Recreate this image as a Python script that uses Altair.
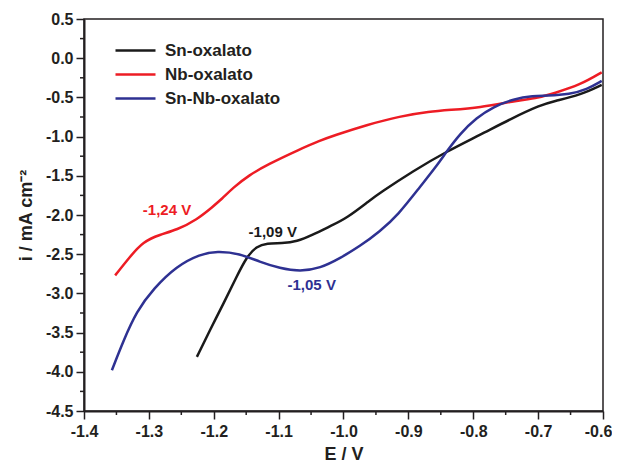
import altair as alt
import pandas as pd

# Sn-oxalato (black)
sn_E = [-1.226, -1.206, -1.185, -1.165, -1.149, -1.134, -1.118, -1.095, -1.072, -1.047,
        -1.020, -0.995, -0.959, -0.944, -0.893, -0.841, -0.790, -0.739, -0.697, -0.677,
        -0.635, -0.602]
sn_i = [-3.81, -3.47, -3.13, -2.79, -2.53, -2.40, -2.36, -2.36, -2.34, -2.25,
        -2.14, -2.04, -1.81, -1.72, -1.44, -1.19, -0.98, -0.76, -0.60, -0.55,
        -0.47, -0.34]

# Nb-oxalato (red)
nb_E = [-1.352, -1.329, -1.309, -1.283, -1.257, -1.226, -1.201, -1.188, -1.170, -1.145,
        -1.118, -1.067, -1.036, -1.016, -0.964, -0.913, -0.867, -0.836, -0.790, -0.739,
        -0.697, -0.677, -0.635, -0.602]
nb_i = [-2.77, -2.53, -2.34, -2.25, -2.19, -2.06, -1.89, -1.80, -1.65, -1.49,
        -1.36, -1.16, -1.05, -0.99, -0.85, -0.74, -0.68, -0.66, -0.63, -0.55,
        -0.50, -0.45, -0.34, -0.18]

# Sn-Nb-oxalato (blue)
snnb_E = [-1.357, -1.339, -1.319, -1.293, -1.257, -1.221, -1.195, -1.160, -1.129, -1.098,
          -1.067, -1.036, -1.005, -0.975, -0.944, -0.916, -0.882, -0.856, -0.841, -0.820,
          -0.795, -0.769, -0.738, -0.707, -0.687, -0.651, -0.625, -0.602]
snnb_i = [-3.98, -3.60, -3.23, -2.94, -2.65, -2.50, -2.46, -2.49, -2.60, -2.68,
          -2.72, -2.68, -2.55, -2.40, -2.21, -2.00, -1.64, -1.37, -1.19, -0.96,
          -0.76, -0.62, -0.52, -0.48, -0.48, -0.46, -0.40, -0.29]

series_names = ["Sn-oxalato", "Nb-oxalato", "Sn-Nb-oxalato"]
series_colors = ["#1a1a1a", "#ed1c24", "#2e3192"]

# axis ticks
x_major = [-1.4, -1.3, -1.2, -1.1, -1.0, -0.9, -0.8, -0.7, -0.6]
x_minor = [-1.35, -1.25, -1.15, -1.05, -0.95, -0.85, -0.75, -0.65]
y_major = [-4.5, -4.0, -3.5, -3.0, -2.5, -2.0, -1.5, -1.0, -0.5, 0.0, 0.5]
y_minor = [-4.25, -3.75, -3.25, -2.75, -2.25, -1.75, -1.25, -0.75, -0.25, 0.25]

rows = []
for name, E, I in [(series_names[0], sn_E, sn_i), (series_names[1], nb_E, nb_i),
                   (series_names[2], snnb_E, snnb_i)]:
    for k, (e, i) in enumerate(zip(E, I)):
        rows.append({"serie": name, "E": e, "i": i, "ord": k})
df = pd.DataFrame(rows)

ann_text = ["-1,24 V", "-1,09 V", "-1,05 V"]
ann_E = [-1.272, -1.109, -1.049]
ann_i = [-1.93, -2.22, -2.89]
ann_color = ["#ed1c24", "#1a1a1a", "#2e3192"]
ann_df = pd.DataFrame({"t": ann_text, "E": ann_E, "i": ann_i, "c": ann_color})

font = "Liberation Sans"
axis_color = "#231f20"
W, H = 519, 392
xscale = alt.Scale(domain=[-1.4, -0.6], nice=False, zero=False)
yscale = alt.Scale(domain=[-4.5, 0.5], nice=False, zero=False)

common = dict(domainWidth=2, domainColor=axis_color, tickColor=axis_color, tickWidth=1.5,
              tickSize=8, labelFont=font, labelFontWeight="bold", labelColor=axis_color,
              labelFontSize=16, titleFont=font, titleFontSize=18, titleFontWeight="bold",
              titleColor=axis_color, grid=False, labelFlush=False, labelOverlap=False,
              labelExpr="replace(datum.label, '\u2212', '-')")

x_axis = alt.Axis(values=x_major, format=".1f", title="E / V", orient="bottom",
                  labelOffset={"condition": {"test": "datum.value > -0.65", "value": -5}, "value": 0},
                  labelPadding=4, titlePadding=6, **common)
y_axis = alt.Axis(values=y_major, format=".1f", title="i / mA cm⁻²", orient="left",
                  labelPadding=3, titlePadding=10, **common)

lines = alt.Chart(df).mark_line(strokeWidth=2.5, interpolate="basis").encode(
    x=alt.X("E:Q", scale=xscale, axis=x_axis),
    y=alt.Y("i:Q", scale=yscale, axis=y_axis),
    color=alt.Color("serie:N", scale=alt.Scale(domain=series_names, range=series_colors),
                    legend=alt.Legend(title=None, orient="none", legendX=40, legendY=20,
                                      symbolType="M-2,0H2", symbolSize=400, symbolStrokeWidth=2.5,
                                      labelFont=font, labelFontSize=17, labelFontWeight="bold",
                                      labelColor=axis_color, rowPadding=4, labelOffset=18)),
    detail="serie:N",
    order="ord:Q",
)

xminor_df = pd.DataFrame({"E": x_minor})
yminor_df = pd.DataFrame({"i": y_minor})

xminor = alt.Chart(xminor_df).mark_rule(color=axis_color, strokeWidth=1.5).encode(
    x=alt.X("E:Q", scale=xscale, axis=x_axis),
    y=alt.value(H), y2=alt.value(H + 4),
)
yminor = alt.Chart(yminor_df).mark_rule(color=axis_color, strokeWidth=1.5).encode(
    y=alt.Y("i:Q", scale=yscale, axis=y_axis),
    x=alt.value(0), x2=alt.value(-4),
)

ann = alt.Chart(ann_df).mark_text(font=font, fontSize=15, fontWeight="bold").encode(
    x=alt.X("E:Q", scale=xscale, axis=x_axis),
    y=alt.Y("i:Q", scale=yscale, axis=y_axis),
    text="t:N",
    color=alt.Color("c:N", scale=None),
)

chart = alt.layer(lines, xminor, yminor, ann).properties(
    width=W, height=H,
    autosize=alt.AutoSizeParams(type="none"),
    padding={"left": 76, "top": 11, "right": 9, "bottom": 54},
).configure_view(stroke=axis_color, strokeWidth=1.5)

chart.save("out.html", embed_options={"renderer": "svg", "actions": False})
